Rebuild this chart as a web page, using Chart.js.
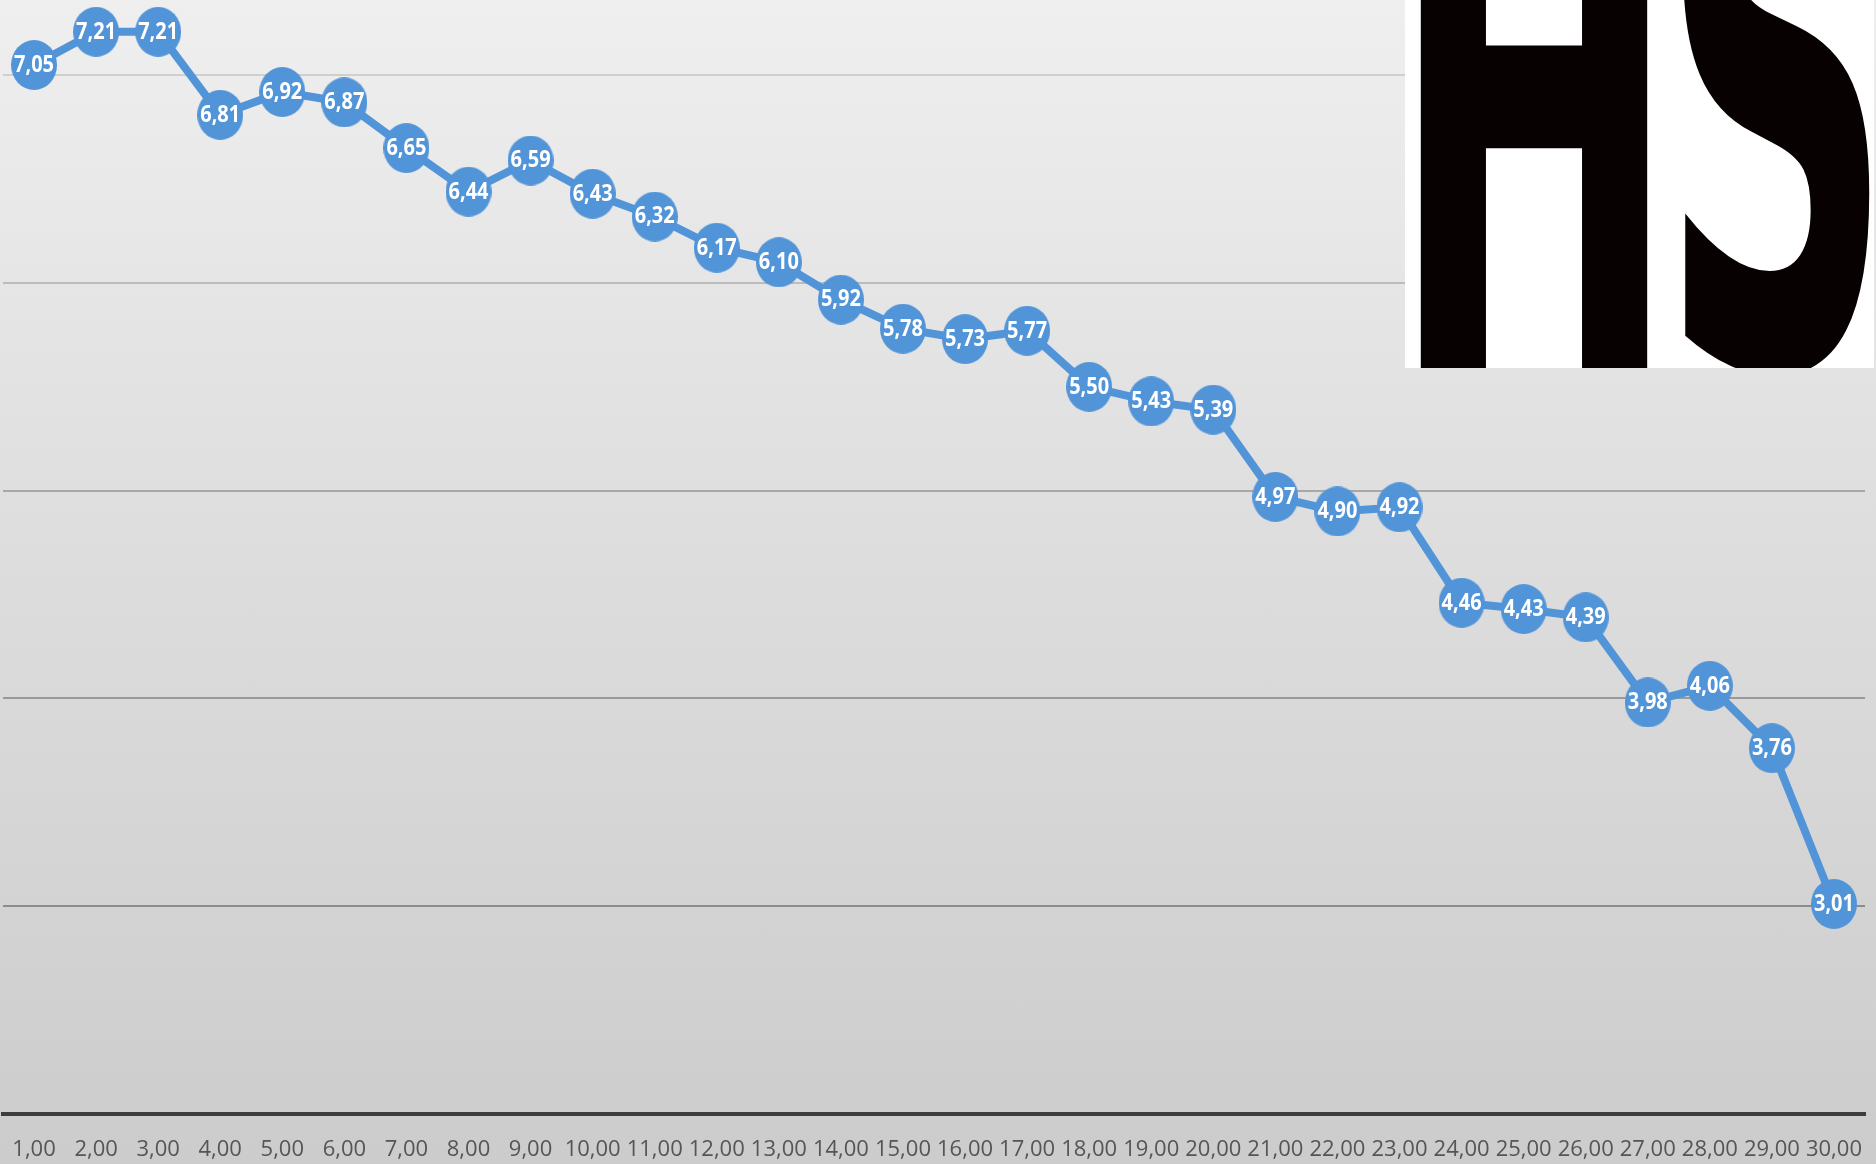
<!DOCTYPE html>
<html>
<head>
<meta charset="utf-8">
<title>Chart</title>
<script src="https://cdn.jsdelivr.net/npm/chart.js@4/dist/chart.umd.min.js"></script>
<style>
  html, body {
    margin: 0;
    padding: 0;
  }
  body {
    width: 1876px;
    height: 1164px;
    overflow: hidden;
    position: relative;
    background: linear-gradient(to bottom, #efefef 0%, #dedede 45%, #cccccc 100%);
  }
  #my-chart {
    position: absolute;
    left: 0;
    top: 0;
  }
  #logo {
    position: absolute;
    left: 1405px;
    top: 0;
    width: 469px;
    height: 368px;
    background: #fff;
    overflow: hidden;
  }
  #logo span {
    position: absolute;
    font-family: 'DejaVu Sans', sans-serif;
    font-weight: bold;
    font-size: 770px;
    line-height: 1;
    color: #070102;
    transform-origin: left top;
  }
  #logo-h {
    left: -16px;
    top: -240px;
    transform: scaleX(0.45) scaleY(0.94);
  }
  #logo-s {
    left: 255px;
    top: -286px;
    transform: scaleX(0.42);
  }
</style>
</head>
<body>
<canvas id="my-chart" width="1876" height="1164"></canvas>
<div id="logo"><span id="logo-h">H</span><span id="logo-s">S</span></div>

<script>
'use strict';

//  CHART DATA
let categories = [1, 2, 3, 4, 5, 6, 7, 8, 9, 10, 11, 12, 13, 14, 15,
  16, 17, 18, 19, 20, 21, 22, 23, 24, 25, 26, 27, 28, 29, 30];
let seriesValues = [7.05, 7.21, 7.21, 6.81, 6.92, 6.87, 6.65, 6.44, 6.59, 6.43,
  6.32, 6.17, 6.10, 5.92, 5.78, 5.73, 5.77, 5.50, 5.43, 5.39,
  4.97, 4.90, 4.92, 4.46, 4.43, 4.39, 3.98, 4.06, 3.76, 3.01];
let gridValues = [2, 3, 4, 5, 6, 7];

//  DOM REFERENCES
let canvasElem = document.getElementById('my-chart');

let blue = '#5294d8';
// gridlines get darker towards the bottom of the picture
let gridColors = { 7: '#cfcfcf', 6: '#bcbcbc', 5: '#a8a8a8', 4: '#9a9a9a', 3: '#8c8c8c' };

// HELPER FUNCTIONS

function formatComma(num) {
  return num.toFixed(2).replace('.', ',');
}

// the markers in the picture are a bit taller than wide
function makeMarker(w, h) {
  let c = document.createElement('canvas');
  c.width = w;
  c.height = h;
  let cx = c.getContext('2d');
  cx.fillStyle = blue;
  cx.beginPath();
  cx.ellipse(w / 2, h / 2, w / 2, h / 2, 0, 0, Math.PI * 2);
  cx.fill();
  return c;
}

// PLUGIN THAT WRITES THE VALUE INSIDE EACH POINT
let valueLabels = {
  id: 'valueLabels',
  afterDatasetsDraw(chart) {
    let ctx = chart.ctx;
    let meta = chart.getDatasetMeta(0);
    ctx.save();
    ctx.font = 'bold 20px "Open Sans", sans-serif';
    ctx.fillStyle = '#ffffff';
    ctx.textAlign = 'center';
    ctx.textBaseline = 'middle';
    for (let i = 0; i < meta.data.length; i++) {
      let pt = meta.data[i];
      ctx.save();
      ctx.translate(pt.x, pt.y);
      ctx.scale(1, 1.2);
      ctx.fillText(formatComma(seriesValues[i]), 0, 0);
      ctx.restore();
    }
    ctx.restore();
  }
};

// CHART.JS CONFIG
let theChart = {
  type: 'line',
  data: {
    labels: categories,
    datasets: [{
      data: seriesValues,
      borderColor: blue,
      backgroundColor: blue,
      borderWidth: 8,
      tension: 0,
      pointStyle: makeMarker(46, 50),
      pointRadius: 23,
      pointBorderWidth: 0,
      clip: false
    }]
  },
  options: {
    responsive: false,
    animation: false,
    layout: {
      autoPadding: false,
      padding: { left: 3, right: 11, top: 0, bottom: -22 }
    },
    plugins: {
      legend: { display: false },
      tooltip: { enabled: false }
    },
    scales: {
      x: {
        offset: true,
        afterFit: function (axis) {
          axis.paddingLeft = 0;
          axis.paddingRight = 0;
        },
        grid: { display: false, drawTicks: false },
        border: { display: true, color: '#3d3d3d', width: 4 },
        ticks: {
          padding: 23,
          color: '#555555',
          font: { family: '"Open Sans", sans-serif', size: 22 },
          maxRotation: 0,
          autoSkip: false,
          callback: function (value, index) {
            return formatComma(categories[index]);
          }
        }
      },
      y: {
        min: 2,
        max: 7.363,
        afterBuildTicks: function (axis) {
          axis.ticks = gridValues.map(function (v) {
            return { value: v };
          });
        },
        border: { display: false },
        grid: {
          drawTicks: false,
          lineWidth: 2,
          color: function (context) {
            if (!context.tick || !gridColors[context.tick.value]) {
              return 'rgba(0,0,0,0)';
            }
            return gridColors[context.tick.value];
          }
        },
        ticks: { display: false }
      }
    }
  },
  plugins: [valueLabels]
};

// CONSTRUCTOR CALL TO RENDER THE CHART
new Chart(canvasElem, theChart);
</script>
</body>
</html>
